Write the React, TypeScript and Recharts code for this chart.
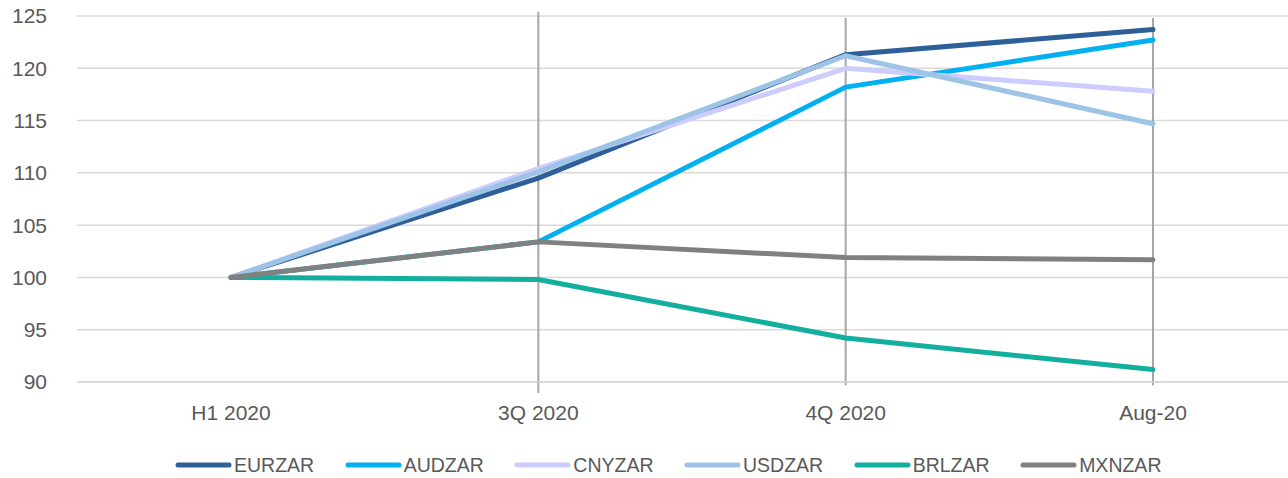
import React from 'react';
import { LineChart, Line, XAxis, YAxis, CartesianGrid, Legend, ReferenceLine } from 'recharts';

const categories = ['H1 2020', '3Q 2020', '4Q 2020', 'Aug-20'];
const eurzar = [100, 109.5, 121.3, 123.7];
const audzar = [100, 103.4, 118.2, 122.7];
const cnyzar = [100, 110.4, 120.0, 117.8];
const usdzar = [100, 110.1, 121.2, 114.7];
const brlzar = [100, 99.8, 94.2, 91.2];
const mxnzar = [100, 103.4, 101.9, 101.7];
const yTicks = [90, 95, 100, 105, 110, 115, 120, 125];

const dropCategories = ['3Q 2020', '4Q 2020', 'Aug-20'];
const dropTops = [125.4, 124.8, 124.8];
const dropBottoms = [88.95, 89.7, 89.7];

const seriesNames = ['EURZAR', 'AUDZAR', 'CNYZAR', 'USDZAR', 'BRLZAR', 'MXNZAR'];
const seriesValues = [eurzar, audzar, cnyzar, usdzar, brlzar, mxnzar];
const seriesColors = ['#2E5F99', '#00B0F0', '#CCCCFF', '#9DC3E6', '#12AE9E', '#808080'];

const data = categories.map((c, i) => {
  const row: Record<string, string | number> = { name: c };
  seriesNames.forEach((s, j) => {
    row[s] = seriesValues[j][i];
  });
  return row;
});

const FONT = '"Liberation Sans", Arial, sans-serif';
const TEXT = '#595959';

const LegendContent = () => (
  <div style={{ display: 'flex', paddingLeft: 175, paddingTop: 22, fontFamily: FONT, fontSize: 19.5, color: TEXT }}>
    {seriesNames.map((s, i) => (
      <div key={s} style={{ display: 'flex', alignItems: 'center', marginRight: 30.5, height: 22 }}>
        <svg width={57} height={10} style={{ marginRight: 2 }}>
          <line x1={3} y1={5} x2={54} y2={5} stroke={seriesColors[i]} strokeWidth={5} strokeLinecap="round" />
        </svg>
        <span style={{ lineHeight: '22px' }}>{s}</span>
      </div>
    ))}
  </div>
);

export default function App() {
  return (
    <div style={{ position: 'absolute', left: 0, top: 0, width: 1288, height: 478, overflow: 'hidden', background: '#fff' }}>
      <LineChart width={1307} height={478} data={data} margin={{ top: 16, right: 0, bottom: 0, left: 0 }}>
        <CartesianGrid vertical={false} stroke="#D9D9D9" strokeWidth={1.5} />
        <XAxis
          dataKey="name"
          height={50}
          padding={{ left: 154, right: 154 }}
          tickLine={false}
          axisLine={{ stroke: '#D9D9D9', strokeWidth: 1.5 }}
          tickSize={0}
          tickMargin={23}
          tick={{ fill: TEXT, fontSize: 21, fontFamily: FONT }}
          interval={0}
        />
        <YAxis
          domain={[90, 125]}
          ticks={yTicks}
          width={77}
          axisLine={false}
          tickLine={false}
          tickSize={0}
          tickMargin={30}
          tick={{ fill: TEXT, fontSize: 21, fontFamily: FONT }}
          allowDataOverflow
        />
        {dropCategories.map((c, i) => (
          <ReferenceLine
            key={c}
            segment={[{ x: c, y: dropTops[i] }, { x: c, y: dropBottoms[i] }]}
            stroke="#A6A6A6"
            strokeWidth={2}
            ifOverflow="visible"
          />
        ))}
        {seriesNames.map((s, i) => (
          <Line
            key={s}
            type="linear"
            dataKey={s}
            stroke={seriesColors[i]}
            strokeWidth={5}
            strokeLinecap="round"
            strokeLinejoin="round"
            dot={false}
            activeDot={false}
            isAnimationActive={false}
          />
        ))}
        <Legend
          verticalAlign="bottom"
          height={46}
          content={<LegendContent />}
          wrapperStyle={{ left: 0, width: 1288 }}
        />
      </LineChart>
    </div>
  );
}
